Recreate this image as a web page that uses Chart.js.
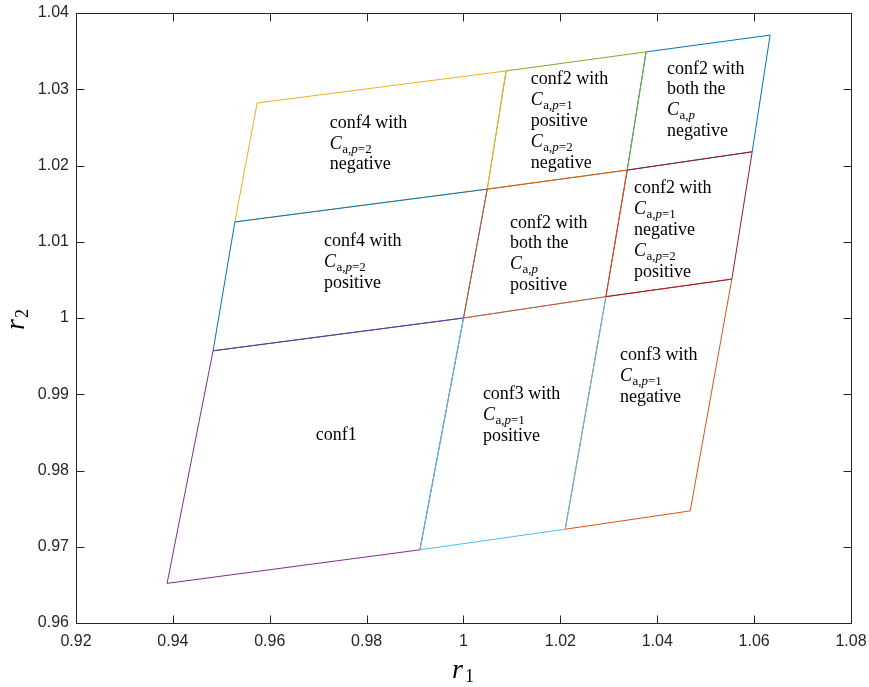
<!DOCTYPE html>
<html>
<head>
<meta charset="utf-8">
<script src="https://cdn.jsdelivr.net/npm/chart.js@4.4.1/dist/chart.umd.min.js"></script>
<style>
  html, body { margin: 0; padding: 0; background: #fff; }
</style>
</head>
<body>
<canvas id="myChart" width="869" height="687"></canvas>
<script>
// corners of each region as (r1, r2), closed back to the start
const conf1R1 = [0.9388, 0.9910, 1.0000, 0.9483, 0.9388];
const conf1R2 = [0.9652, 0.9696, 1.0000, 0.9957, 0.9652];

const conf3PosR1 = [0.9910, 1.0210, 1.0294, 1.0000, 0.9910];
const conf3PosR2 = [0.9696, 0.9723, 1.0028, 1.0000, 0.9696];

const conf3NegR1 = [1.0210, 1.0468, 1.0554, 1.0294, 1.0210];
const conf3NegR2 = [0.9723, 0.9747, 1.0051, 1.0028, 0.9723];

const conf4PosR1 = [0.9483, 1.0000, 1.0049, 0.9528, 0.9483];
const conf4PosR2 = [0.9957, 1.0000, 1.0169, 1.0126, 0.9957];

const conf2PosPosR1 = [1.0000, 1.0294, 1.0338, 1.0049, 1.0000];
const conf2PosPosR2 = [1.0000, 1.0028, 1.0194, 1.0169, 1.0000];

const conf2NegPosR1 = [1.0294, 1.0554, 1.0596, 1.0338, 1.0294];
const conf2NegPosR2 = [1.0028, 1.0051, 1.0218, 1.0194, 1.0028];

const conf4NegR1 = [0.9528, 1.0049, 1.0088, 0.9574, 0.9528];
const conf4NegR2 = [1.0126, 1.0169, 1.0324, 1.0282, 1.0126];

const conf2PosNegR1 = [1.0049, 1.0338, 1.0377, 1.0088, 1.0049];
const conf2PosNegR2 = [1.0169, 1.0194, 1.0349, 1.0324, 1.0169];

const conf2NegNegR1 = [1.0338, 1.0596, 1.0633, 1.0377, 1.0338];
const conf2NegNegR2 = [1.0194, 1.0218, 1.0371, 1.0349, 1.0194];

const xTicks = [0.92, 0.94, 0.96, 0.98, 1.00, 1.02, 1.04, 1.06, 1.08];
const yTicks = [0.96, 0.97, 0.98, 0.99, 1.00, 1.01, 1.02, 1.03, 1.04];

// text written inside the regions, anchored at the first line (left edge)
const notes = [
  { r1: 0.9724, r2: 1.0256, lines: ['conf4 with', 'C_a,p=2', 'negative'] },
  { r1: 0.9712, r2: 1.0101, lines: ['conf4 with', 'C_a,p=2', 'positive'] },
  { r1: 0.9695, r2: 0.9847, lines: ['conf1'] },
  { r1: 1.0040, r2: 0.9900, lines: ['conf3 with', 'C_a,p=1', 'positive'] },
  { r1: 1.0323, r2: 0.9951, lines: ['conf3 with', 'C_a,p=1', 'negative'] },
  { r1: 1.0096, r2: 1.0125, lines: ['conf2 with', 'both the', 'C_a,p', 'positive'] },
  { r1: 1.0352, r2: 1.0170, lines: ['conf2 with', 'C_a,p=1', 'negative', 'C_a,p=2', 'positive'] },
  { r1: 1.0139, r2: 1.0313, lines: ['conf2 with', 'C_a,p=1', 'positive', 'C_a,p=2', 'negative'] },
  { r1: 1.0420, r2: 1.0327, lines: ['conf2 with', 'both the', 'C_a,p', 'negative'] }
];

const pts = (xs, ys) => xs.map((x, i) => ({ x: x, y: ys[i] }));
const fmt = v => String(Number(v.toFixed(2)));

function region(xs, ys, color, order) {
  return {
    data: pts(xs, ys),
    borderColor: color,
    borderWidth: 1,
    showLine: true,
    pointRadius: 0,
    fill: false,
    tension: 0,
    order: order
  };
}

const SERIF = '"Liberation Serif", "DejaVu Serif", serif';

function drawLine(ctx, text, x, y) {
  if (text.startsWith('C_')) {
    ctx.font = 'italic 18px ' + SERIF;
    ctx.fillText('C', x, y);
    let cx = x + ctx.measureText('C').width + 0.5;
    const parts = text.slice(2).split(/(p)/);
    for (const part of parts) {
      if (!part) continue;
      ctx.font = (part === 'p' ? 'italic ' : '') + '13px ' + SERIF;
      ctx.fillText(part, cx, y + 4);
      cx += ctx.measureText(part).width;
    }
  } else {
    ctx.font = '18px ' + SERIF;
    ctx.fillText(text, x, y);
  }
}

const framePlugin = {
  id: 'frame',
  afterDraw(chart) {
    const ctx = chart.ctx;
    const a = chart.chartArea;
    const xs = chart.scales.x, ys = chart.scales.y;
    const L = Math.round(a.left) + 0.5, R = Math.round(a.right) + 0.5;
    const T = Math.round(a.top) + 0.5, B = Math.round(a.bottom) + 0.5;
    ctx.save();
    ctx.strokeStyle = '#262626';
    ctx.lineWidth = 1;
    ctx.strokeRect(L, T, R - L, B - T);
    ctx.beginPath();
    xTicks.forEach(v => {
      const p = Math.round(xs.getPixelForValue(v)) + 0.5;
      ctx.moveTo(p, B); ctx.lineTo(p, B - 8);
      ctx.moveTo(p, T); ctx.lineTo(p, T + 8);
    });
    yTicks.forEach(v => {
      const p = Math.round(ys.getPixelForValue(v)) + 0.5;
      ctx.moveTo(L, p); ctx.lineTo(L + 8, p);
      ctx.moveTo(R, p); ctx.lineTo(R - 8, p);
    });
    ctx.stroke();

    // region notes
    ctx.fillStyle = '#000';
    ctx.textAlign = 'left';
    ctx.textBaseline = 'alphabetic';
    notes.forEach(n => {
      const x0 = xs.getPixelForValue(n.r1);
      const y0 = ys.getPixelForValue(n.r2);
      n.lines.forEach((t, i) => drawLine(ctx, t, x0, y0 + 5 + i * 20.8));
    });

    // axis titles
    ctx.fillStyle = '#000';
    ctx.font = 'italic 28px ' + SERIF;
    ctx.fillText('r', 452, 678);
    ctx.font = '18px ' + SERIF;
    ctx.fillText('1', 465, 682);

    ctx.translate(24, 330);
    ctx.rotate(-Math.PI / 2);
    ctx.font = 'italic 28px ' + SERIF;
    ctx.fillText('r', 0, 0);
    ctx.font = '18px ' + SERIF;
    ctx.fillText('2', 12, 4);
    ctx.restore();
  }
};

new Chart(document.getElementById('myChart'), {
  type: 'scatter',
  data: {
    datasets: [
      region(conf2NegNegR1, conf2NegNegR2, '#0072BD', 9),
      region(conf2PosNegR1, conf2PosNegR2, '#77AC30', 8),
      region(conf4NegR1, conf4NegR2, '#EDB120', 7),
      region(conf4PosR1, conf4PosR2, '#0072BD', 6),
      region(conf1R1, conf1R2, '#7E2F8E', 5),
      region(conf3NegR1, conf3NegR2, '#D95319', 4),
      region(conf3PosR1, conf3PosR2, '#4DBEEE', 3),
      region(conf2NegPosR1, conf2NegPosR2, '#A2142F', 2),
      region(conf2PosPosR1, conf2PosPosR2, '#D95319', 1)
    ]
  },
  options: {
    responsive: false,
    animation: false,
    layout: { padding: { top: 13, right: 18, left: 0, bottom: 0 } },
    plugins: {
      legend: { display: false },
      tooltip: { enabled: false }
    },
    scales: {
      x: {
        type: 'linear',
        min: 0.92,
        max: 1.08,
        afterFit: s => { s.height = 64; s.paddingLeft = 0; s.paddingRight = 0; },
        afterBuildTicks: s => { s.ticks = xTicks.map(v => ({ value: v })); },
        grid: { display: false, drawTicks: false },
        border: { display: false },
        ticks: {
          callback: v => fmt(v),
          color: '#262626',
          font: { family: '"Liberation Sans", Arial, sans-serif', size: 16 },
          padding: 9,
          maxRotation: 0,
          autoSkip: false
        }
      },
      y: {
        type: 'linear',
        min: 0.96,
        max: 1.04,
        afterFit: s => { s.width = 76; s.paddingTop = 0; s.paddingBottom = 0; },
        afterBuildTicks: s => { s.ticks = yTicks.map(v => ({ value: v })); },
        grid: { display: false, drawTicks: false },
        border: { display: false },
        ticks: {
          callback: v => fmt(v),
          color: '#262626',
          font: { family: '"Liberation Sans", Arial, sans-serif', size: 16 },
          padding: 7,
          autoSkip: false
        }
      }
    }
  },
  plugins: [framePlugin]
});
</script>
</body>
</html>
